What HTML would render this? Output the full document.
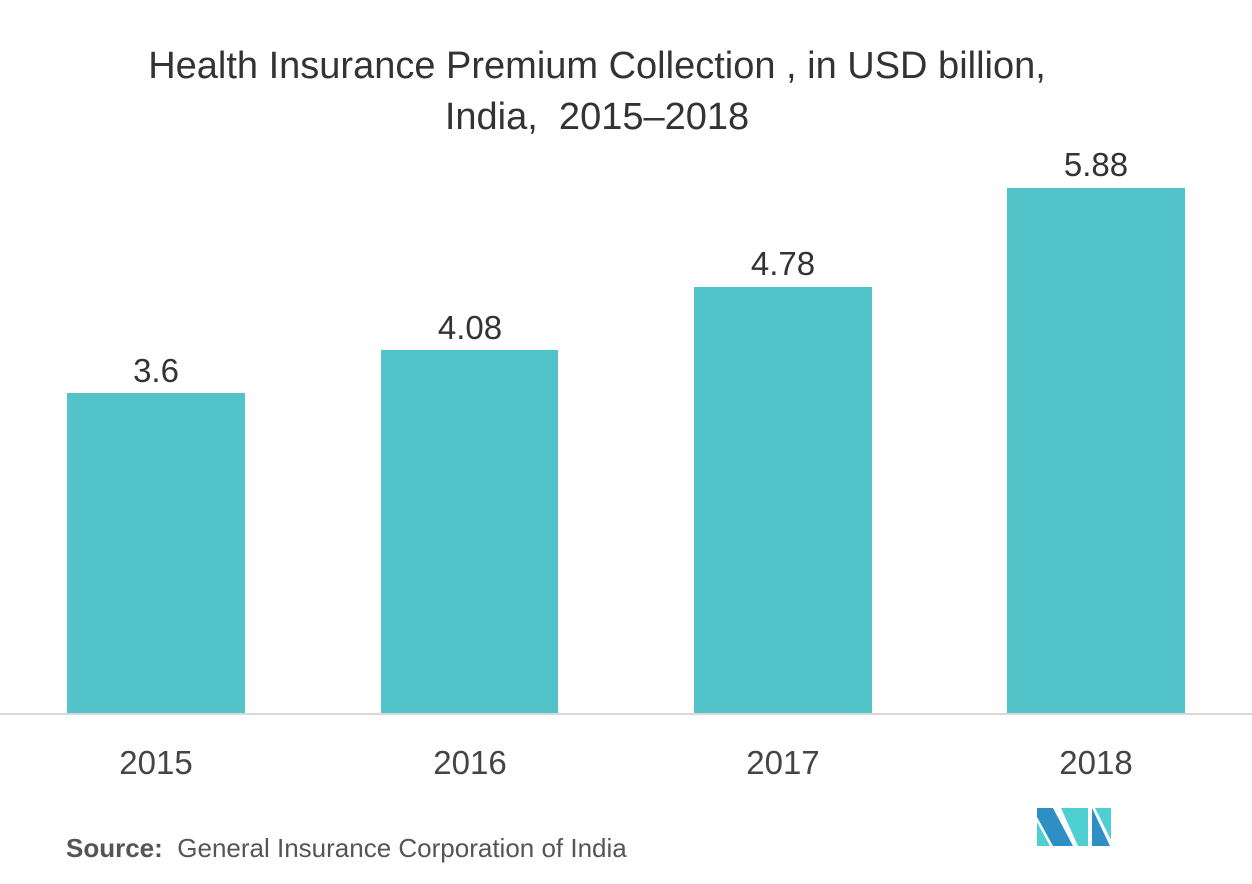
<!DOCTYPE html>
<html><head><style>
html,body{margin:0;padding:0;background:#fff;}
body{width:1252px;height:884px;position:relative;overflow:hidden;font-family:"Liberation Sans",sans-serif;color:#333;}
.t{position:absolute;left:0;width:1194px;text-align:center;font-size:38px;color:#333;}
.bar{position:absolute;background:#51c3c9;}
.v{position:absolute;width:178px;text-align:center;font-size:33px;color:#333;}
.y{position:absolute;width:178px;text-align:center;font-size:33px;color:#444;top:744px;}
</style></head><body>
<div class="t" style="top:45px">Health Insurance Premium Collection , in USD billion,</div>
<div class="t" style="top:96px">India,&nbsp; 2015–2018</div>
<div class="bar" style="left:67px;width:178px;top:393px;height:321px"></div>
<div class="bar" style="left:381px;width:177px;top:350px;height:364px"></div>
<div class="bar" style="left:694px;width:178px;top:287px;height:427px"></div>
<div class="bar" style="left:1007px;width:178px;top:188px;height:526px"></div>
<div style="position:absolute;left:0;width:1252px;top:713px;height:2px;background:#d9d9d9"></div>
<div class="v" style="left:67px;top:352px">3.6</div>
<div class="v" style="left:381px;top:309px">4.08</div>
<div class="v" style="left:694px;top:245px">4.78</div>
<div class="v" style="left:1007px;top:146px">5.88</div>
<div class="y" style="left:67px">2015</div>
<div class="y" style="left:381px">2016</div>
<div class="y" style="left:694px">2017</div>
<div class="y" style="left:1007px">2018</div>
<div style="position:absolute;left:66px;top:833px;font-size:26px;color:#555"><b>Source:</b>&nbsp; General Insurance Corporation of India</div>
<svg style="position:absolute;left:0;top:0" width="1252" height="884">
<polygon points="1037,808 1053,808 1073,846 1053,846 1037,817" fill="#2e8fc4"/>
<polygon points="1037,822 1037,846 1050,846" fill="#4ecfd1"/>
<polygon points="1061,808 1088,808 1088,846 1078,846" fill="#4ecfd1"/>
<polygon points="1092,808 1110,846 1092,846" fill="#2e8fc4"/>
<polygon points="1095,808 1111,808 1111,840" fill="#4ecfd1"/>
</svg>
</body></html>
